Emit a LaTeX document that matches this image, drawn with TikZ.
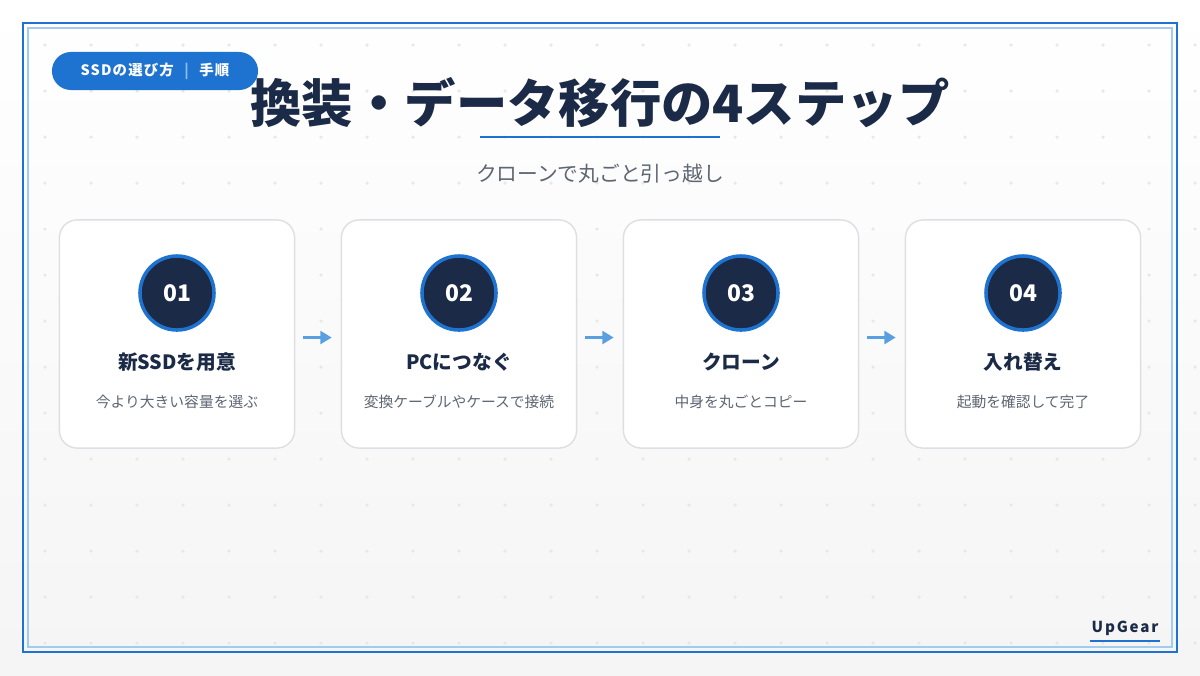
\documentclass[tikz,border=0pt]{standalone}
\usepackage{fontspec}
\setmainfont{Noto Sans CJK JP}
\usetikzlibrary{positioning,arrows.meta}
\definecolor{navy}{HTML}{1B2A47}
\definecolor{brand}{HTML}{1E73D0}
\definecolor{lightblue}{HTML}{8CBDEB}
\definecolor{arrowblue}{HTML}{5AA0E0}
\definecolor{cardline}{HTML}{DCDFE4}
\definecolor{subgray}{HTML}{5E6673}
\tikzset{
  card/.style={draw=cardline, line width=0.4pt, fill=white, rounded corners=5pt,
    minimum width=2.35cm, minimum height=2.28cm, inner sep=0pt},
  num/.style={circle, fill=navy, draw=brand, line width=1pt, minimum size=0.74cm,
    inner sep=0pt, text=white, font=\bfseries\fontsize{6.5}{7}\selectfont},
  head/.style={text=navy, font=\bfseries\fontsize{5.6}{6}\selectfont},
  desc/.style={text=subgray, font=\fontsize{4.2}{5}\selectfont},
  flow/.style={-{Triangle[length=3.2pt,width=3.6pt]}, draw=arrowblue, line width=0.8pt,
    shorten <=0.08cm, shorten >=0.09cm}
}
\begin{document}
\begin{tikzpicture}[x=0.01cm, y=-0.01cm]
  % background
  \shade[top color=white, bottom color=gray!8] (0,0) rectangle (1200,675);
  \useasboundingbox (0,0) rectangle (1200,675);
  \foreach \i in {0,...,26}
    \foreach \j in {0,...,14}
      \fill[gray!18] (45+46*\i,45+46*\j) circle (0.5pt);
  % frame
  \draw[brand, line width=0.6pt] (23,23) rectangle (1177,652);
  \draw[lightblue!80, line width=0.4pt] (28,28) rectangle (1172,647);

  % badge
  \node[fill=brand, rounded corners=5.4pt, minimum width=2.06cm, minimum height=0.38cm, inner sep=0pt,
    text=white, font=\bfseries\fontsize{4.1}{5}\selectfont] (badge) at (155,71)
    {\addfontfeature{LetterSpace=8}SSDの選び方\hspace{3pt}{\color{lightblue}\textbar}\hspace{3pt}手順};

  % title
  \node[text=navy, font=\bfseries\fontsize{14.6}{16}\selectfont] (title) at (600,103)
    {換装・データ移行の4ステップ};
  \draw[brand, line width=0.8pt] (480,137) -- (720,137);
  \node[text=subgray, font=\fontsize{5.9}{7}\selectfont] (sub) at (600,174)
    {クローンで丸ごと引っ越し};

  % steps
  \foreach \n/\h/\d [count=\k] in {01/新SSDを用意/今より大きい容量を選ぶ,
      02/PCにつなぐ/変換ケーブルやケースで接続,
      03/クローン/中身を丸ごとコピー,
      04/入れ替え/起動を確認して完了} {
    \node[card] (card\k) at (177+282*\k-282,334) {};
    \node[num] (num\k) at (177+282*\k-282,293) {\n};
    \node[head] (head\k) at (177+282*\k-282,362) {\h};
    \node[desc] (desc\k) at (177+282*\k-282,402) {\d};
  }
  \foreach \a/\b in {1/2,2/3,3/4}
    \draw[flow] ([yshift=-1]card\a.east) -- ([yshift=-1]card\b.west);

  % brand
  \node[text=navy, font=\bfseries\fontsize{4.3}{5}\selectfont] (logo) at (1125,628)
    {\addfontfeature{LetterSpace=12}UpGear};
  \draw[brand, line width=0.6pt] (1090,641) -- (1160,641);
\end{tikzpicture}
\end{document}
